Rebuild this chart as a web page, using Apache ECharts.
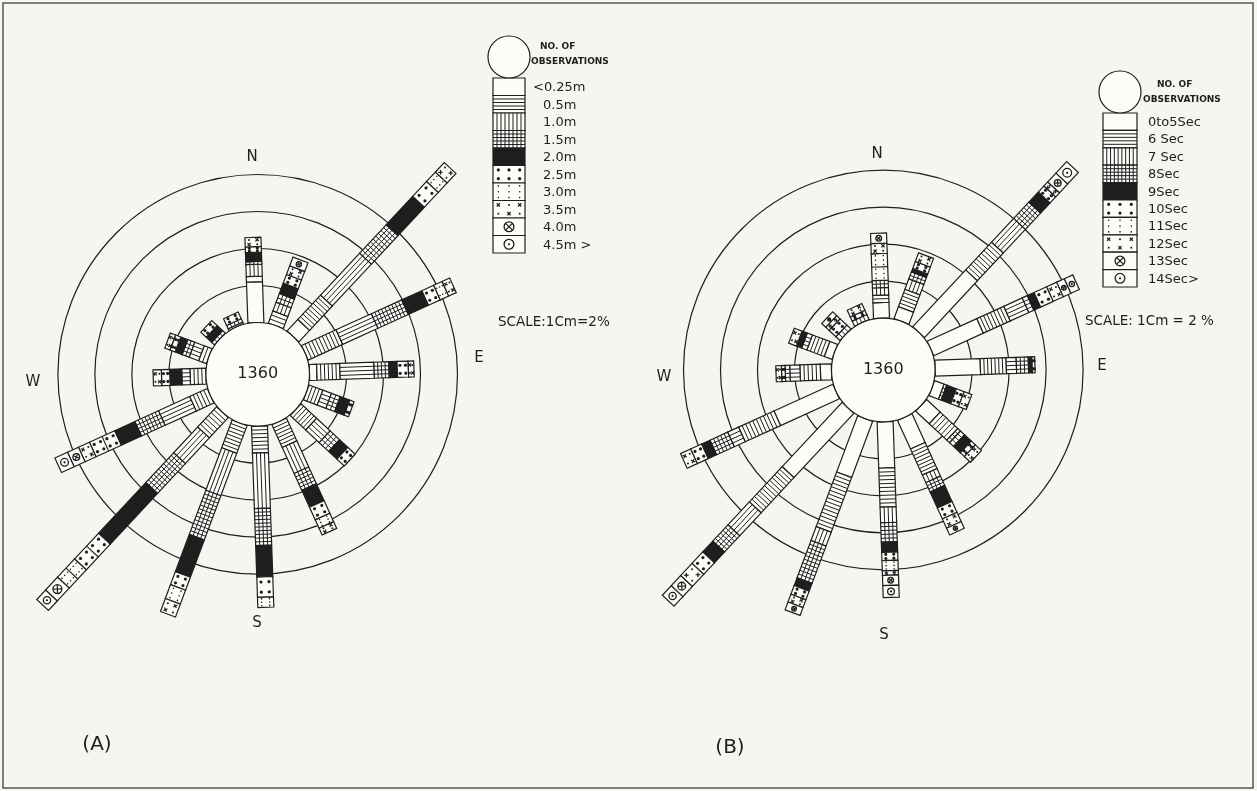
<!DOCTYPE html>
<html>
<head>
<meta charset="utf-8">
<script src="https://cdn.jsdelivr.net/npm/echarts@6/dist/echarts.min.js"></script>
<style>
  html, body { margin: 0; padding: 0; background: #f6f5f0; }
  #chart { width: 1257px; height: 791px; }
</style>
</head>
<body>
<div id="chart"></div>
<script>
const DIRECTIONS = ['N', 'NNE', 'NE', 'ENE', 'E', 'ESE', 'SE', 'SSE', 'S', 'SSW', 'SW', 'WSW', 'W', 'WNW', 'NW', 'NNW'];
const DIR_ANGLES = [0, 22.5, 45, 67.5, 90, 112.5, 135, 157.5, 180, 202.5, 225, 247.5, 270, 292.5, 315, 337.5];
const RINGS = [2, 4, 6, 8];
const OBSERVATIONS = 1360;

// (A) wave height, % of observations per class (order of DIRECTIONS)
const heightLabels = ['<0.25m', '0.5m', '1.0m', '1.5m', '2.0m', '2.5m', '3.0m', '3.5m', '4.0m', '4.5m >'];
const hA_025 = [2.2, 0, 0.85, 0, 0.4, 0, 0, 0, 0, 0, 0, 0, 0, 0, 0, 0];
const hA_05 = [0.3, 0.7, 1.8, 2.05, 1.25, 0.8, 1.15, 1.35, 1.45, 1.6, 1.5, 1.05, 0.85, 0.45, 0, 0.1];
const hA_10 = [0.65, 0.5, 3.1, 2.1, 1.85, 0.5, 1.0, 1.55, 3.0, 2.45, 1.9, 1.85, 0.45, 0.55, 0, 0];
const hA_15 = [0.15, 0.5, 2.1, 1.8, 0.8, 0.5, 0.7, 1.0, 2.0, 2.55, 2.2, 1.4, 0, 0.4, 0.2, 0.2];
const hA_20 = [0.5, 0.6, 2.1, 1.2, 0.45, 0.55, 0.6, 1.0, 1.7, 2.15, 3.75, 1.2, 0.65, 0.4, 0.4, 0];
const hA_25 = [0.3, 0.5, 1.1, 0.7, 0.6, 0.25, 0.55, 0.75, 1.1, 0.75, 1.9, 1.5, 0.45, 0.3, 0.4, 0.4];
const hA_30 = [0, 0, 0.7, 0.5, 0, 0, 0, 0.5, 0.55, 0.8, 1.35, 0, 0, 0, 0, 0];
const hA_35 = [0.5, 0.5, 0.7, 0.45, 0.3, 0, 0, 0.4, 0, 0.75, 0, 0.65, 0.45, 0.3, 0, 0];
const hA_40 = [0, 0.5, 0, 0, 0, 0, 0, 0, 0, 0, 0.95, 0.65, 0, 0, 0, 0];
const hA_45 = [0, 0, 0, 0, 0, 0, 0, 0, 0, 0, 0.7, 0.75, 0, 0, 0, 0];

// (B) wave period, % of observations per class
const periodLabels = ['0to5Sec', '6 Sec', '7 Sec', '8Sec', '9Sec', '10Sec', '11Sec', '12Sec', '13Sec', '14Sec>'];
const pB_5 = [0.85, 0.7, 4.2, 2.95, 2.45, 0.55, 1.0, 1.7, 2.5, 3.25, 4.75, 3.5, 0.6, 0.45, 0, 0];
const pB_6 = [0.4, 1.0, 2.05, 1.6, 1.4, 0, 1.3, 1.55, 2.1, 3.15, 2.6, 2.1, 1.1, 1.0, 0, 0];
const pB_7 = [0.4, 0.6, 1.75, 1.1, 0.55, 0, 0.2, 0.45, 0.85, 0.8, 1.7, 0.65, 0.55, 0, 0, 0];
const pB_8 = [0.4, 0.4, 1.2, 0.3, 0.65, 0.15, 0.3, 0.55, 1.05, 2.15, 1.2, 1.05, 0.25, 0.3, 0.3, 0.3];
const pB_9 = [0, 0.2, 0.75, 0.4, 0.2, 0.55, 0.5, 0.95, 0.55, 0.45, 0.8, 0.5, 0, 0.3, 0, 0];
const pB_10 = [0, 0.4, 0.45, 0.75, 0.15, 0.45, 0.3, 0.65, 0.45, 0.5, 0.85, 0.65, 0.2, 0, 0.5, 0.25];
const pB_11 = [1.45, 0, 0, 0, 0, 0, 0, 0, 0.55, 0, 0, 0, 0, 0, 0, 0];
const pB_12 = [0.55, 0.5, 0.3, 0.6, 0, 0.45, 0.45, 0.55, 0.25, 0.45, 0.9, 0.6, 0.3, 0.45, 0.25, 0.4];
const pB_13 = [0.55, 0, 0.65, 0.45, 0, 0, 0, 0.4, 0.55, 0.45, 0.75, 0, 0, 0, 0.3, 0];
const pB_14 = [0, 0, 0.85, 0.5, 0, 0, 0, 0, 0.65, 0, 0.7, 0, 0, 0, 0, 0];

const classesA = [hA_025, hA_05, hA_10, hA_15, hA_20, hA_25, hA_30, hA_35, hA_40, hA_45];
const classesB = [pB_5, pB_6, pB_7, pB_8, pB_9, pB_10, pB_11, pB_12, pB_13, pB_14];

const INK = '#1e1e1e';
const PAPER = '#fcfcf9';
const FONT = '"DejaVu Sans", sans-serif';
const BAR_W = 16;
const RADIUS_MIN = -2.8;   // calm circle takes the inner part of the radius axis
const RADIUS_MAX = 8;
const POLAR_R = 199.8;

// one patterned block of a bar, from p0 to p1 (pixels), w wide, pattern class k
function patternPieces(p0, p1, w, k) {
  const dx = p1[0] - p0[0], dy = p1[1] - p0[1];
  const L = Math.hypot(dx, dy);
  if (L < 0.5) return [];
  const u = [dx / L, dy / L], n = [-u[1], u[0]];
  const pt = (a, b) => [p0[0] + u[0] * a + n[0] * b, p0[1] + u[1] * a + n[1] * b];
  const h = w / 2;
  const out = [{
    type: 'polygon',
    shape: { points: [pt(0, -h), pt(L, -h), pt(L, h), pt(0, h)] },
    style: { fill: k === 4 ? INK : PAPER, stroke: INK, lineWidth: 1.2 }
  }];
  const line = (a1, b1, a2, b2, lw) => {
    const q1 = pt(a1, b1), q2 = pt(a2, b2);
    out.push({ type: 'line', shape: { x1: q1[0], y1: q1[1], x2: q2[0], y2: q2[1] },
      style: { stroke: INK, lineWidth: lw || 1 } });
  };
  const dot = (a, b, r) => {
    const q = pt(a, b);
    out.push({ type: 'circle', shape: { cx: q[0], cy: q[1], r: r }, style: { fill: INK } });
  };
  if (k === 1 || k === 3) {
    const m = Math.max(1, Math.round(L / 3.8));
    for (let j = 1; j < m; j++) line(j * L / m, -h, j * L / m, h);
  }
  if (k === 2 || k === 3) {
    const m = Math.round(w / 4);
    for (let j = 1; j < m; j++) line(0, -h + j * w / m, L, -h + j * w / m);
  }
  if (k >= 5) {
    const cells = Math.max(1, Math.round(L / (w * 0.9)));
    const cl = L / cells;
    const cols = w > 20 ? 3 : 2;
    for (let c = 0; c < cells; c++) {
      const a0 = c * cl, am = a0 + cl / 2;
      if (c > 0) line(a0, -h, a0, h, 1.1);
      if (k <= 7) {
        const rows = k === 6 ? 3 : 2;
        for (let ci = 0; ci < cols; ci++) {
          const b = -h + (ci + 0.5) * w / cols;
          for (let ri = 0; ri < rows; ri++) {
            const a = a0 + (ri + 0.5) * cl / rows;
            if (k === 5) dot(a, b, 1.6);
            else if (k === 6) dot(a, b, 0.8);
            else if ((ci + ri) % 2 === 0) {
              line(a - 1.6, b - 1.6, a + 1.6, b + 1.6, 1.2);
              line(a - 1.6, b + 1.6, a + 1.6, b - 1.6, 1.2);
            } else dot(a, b, 1);
          }
        }
      } else {
        const rr = Math.min(cl, w) * 0.28;
        const q = pt(am, 0);
        out.push({ type: 'circle', shape: { cx: q[0], cy: q[1], r: rr },
          style: { fill: 'none', stroke: INK, lineWidth: 1.3 } });
        if (k === 8) {
          const s = rr * 0.7;
          line(am - s, -s, am + s, s, 1.2);
          line(am - s, s, am + s, -s, 1.2);
        } else dot(am, 0, 1.1);
      }
    }
  }
  return out;
}

function barSeries(polarIndex, classes) {
  return {
    type: 'custom',
    coordinateSystem: 'polar',
    polarIndex: polarIndex,
    clip: false,
    silent: true,
    z: 2,
    encode: { radius: 0, angle: 1 },
    data: DIRECTIONS.map((d, i) => [classes.reduce((s, arr) => s + arr[i], 0), DIR_ANGLES[i], i]),
    renderItem: function (params, api) {
      const ang = api.value(1);
      const i = api.value(2);
      let acc = 0;
      const children = [];
      classes.forEach((arr, k) => {
        const len = arr[i];
        if (!len) return;
        children.push(...patternPieces(api.coord([acc, ang]), api.coord([acc + len, ang]), BAR_W, k));
        acc += len;
      });
      return { type: 'group', children: children };
    }
  };
}

function ringSeries(polarIndex) {
  return {
    type: 'custom',
    coordinateSystem: 'polar',
    polarIndex: polarIndex,
    silent: true,
    clip: false,
    z: 1,
    encode: { radius: 0, angle: 1 },
    data: RINGS.map(v => [v, 0]),
    renderItem: function (params, api) {
      const cs = params.coordSys;
      const p = api.coord([api.value(0), 0]);
      return { type: 'circle', shape: { cx: cs.cx, cy: cs.cy, r: Math.hypot(p[0] - cs.cx, p[1] - cs.cy) },
        style: { fill: 'none', stroke: INK, lineWidth: 1.2 } };
    }
  };
}

function calmSeries(polarIndex) {
  return {
    type: 'custom',
    coordinateSystem: 'polar',
    polarIndex: polarIndex,
    silent: true,
    clip: false,
    z: 3,
    encode: { radius: 0, angle: 1 },
    data: [[0, 0, OBSERVATIONS]],
    renderItem: function (params, api) {
      const cs = params.coordSys;
      const p = api.coord([0, 0]);
      return { type: 'group', children: [
        { type: 'circle', shape: { cx: cs.cx, cy: cs.cy, r: Math.hypot(p[0] - cs.cx, p[1] - cs.cy) },
          style: { fill: PAPER, stroke: INK, lineWidth: 1.2 } },
        { type: 'text', style: { text: String(api.value(2)), x: cs.cx, y: cs.cy, font: '16px ' + FONT, fill: INK,
          align: 'center', verticalAlign: 'middle', textAlign: 'center', textVerticalAlign: 'middle' } }
      ] };
    }
  };
}

function txt(x, y, s, size, align, weight) {
  return { type: 'text', x: x, y: y, silent: true,
    style: { text: s, font: (weight || 'normal') + ' ' + size + 'px ' + FONT, fill: INK,
      align: align || 'center', verticalAlign: 'middle', textAlign: align || 'center', textVerticalAlign: 'middle' } };
}

function legendGroup(x, top, w, boxH, circleR, labels, labelX, firstLabelX, headX1, headX2, headY) {
  const cx = x + w / 2;
  const children = [];
  for (let k = 0; k < 10; k++) {
    children.push(...patternPieces([cx, top + k * boxH], [cx, top + (k + 1) * boxH], w, k));
    children.push(txt(k === 0 ? firstLabelX : labelX, top + (k + 0.5) * boxH + 1, labels[k], 13, 'left'));
  }
  children.push({ type: 'circle', shape: { cx: cx, cy: top - circleR, r: circleR },
    style: { fill: PAPER, stroke: INK, lineWidth: 1.2 } });
  children.push(txt(headX1, headY, 'NO. OF', 9, 'left', 'bold'));
  children.push(txt(headX2, headY + 15, 'OBSERVATIONS', 9, 'left', 'bold'));
  return { type: 'group', children: children };
}

const chart = echarts.init(document.getElementById('chart'));

const option = {
  backgroundColor: '#f6f5f0',
  animation: false,
  polar: [
    { center: [257.7, 374.3], radius: POLAR_R },
    { center: [883.3, 370], radius: POLAR_R }
  ],
  angleAxis: [0, 1].map(i => ({ polarIndex: i, type: 'value', min: 0, max: 360, startAngle: 92, clockwise: true, show: false })),
  radiusAxis: [0, 1].map(i => ({ polarIndex: i, type: 'value', min: RADIUS_MIN, max: RADIUS_MAX, show: false })),
  series: [
    ringSeries(0), barSeries(0, classesA), calmSeries(0),
    ringSeries(1), barSeries(1, classesB), calmSeries(1)
  ],
  graphic: [
    { type: 'rect', silent: true, shape: { x: 3, y: 3, width: 1250, height: 785 },
      style: { fill: 'none', stroke: '#555', lineWidth: 1.5 } },
    // compass letters and titles
    txt(252, 157, 'N', 15), txt(257, 623, 'S', 15), txt(479, 358, 'E', 15), txt(33, 382, 'W', 15),
    txt(877, 154, 'N', 15), txt(884, 635, 'S', 15), txt(1102, 366, 'E', 15), txt(664, 377, 'W', 15),
    txt(97, 745, '(A)', 20), txt(730, 748, '(B)', 20),
    txt(498, 322, 'SCALE:1Cm=2%', 13.5, 'left'),
    txt(1085, 321, 'SCALE: 1Cm = 2 %', 13.5, 'left'),
    legendGroup(493, 78, 32, 17.5, 21, heightLabels, 543, 533, 540, 531, 47),
    legendGroup(1103, 113, 34, 17.4, 21, periodLabels, 1148, 1148, 1157, 1143, 85)
  ]
};

chart.setOption(option);
</script>
</body>
</html>
